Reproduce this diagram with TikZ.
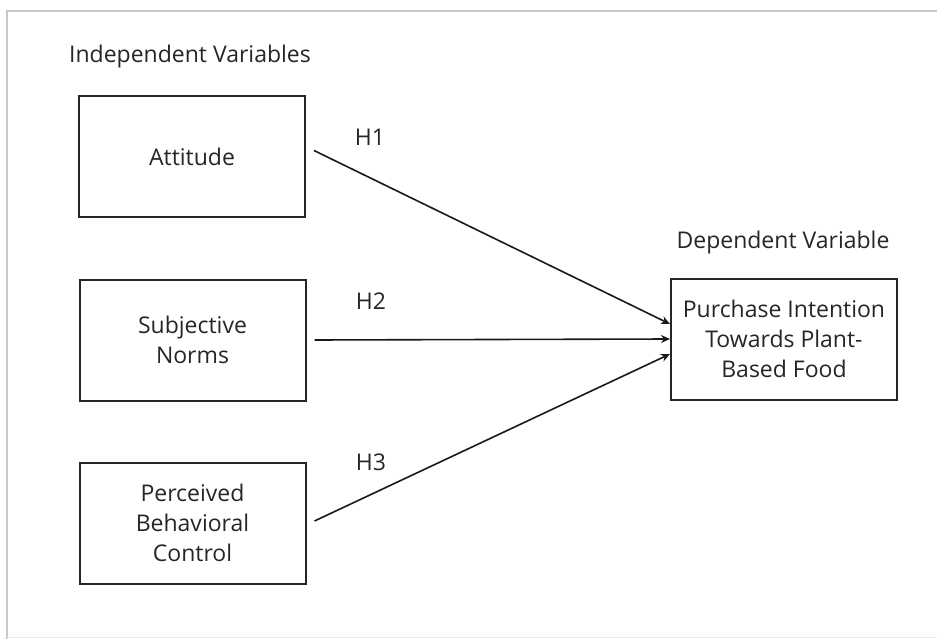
\documentclass[tikz,border=0pt]{standalone}
\usepackage{fontspec}
\setmainfont{Open Sans}
\usetikzlibrary{arrows.meta}
\begin{document}
\begin{tikzpicture}[x=1pt,y=-1pt,
  box/.style={draw=black!85, line width=2pt, minimum width=226pt, minimum height=121pt,
    align=center, font=\fontsize{23}{30}\selectfont, text=black!85, inner sep=0pt},
  lbl/.style={font=\fontsize{23}{26}\selectfont, text=black!85, inner sep=0pt},
  link/.style={line width=1.6pt, draw=black!90, -{Stealth[length=9pt,width=8pt]}}]
\useasboundingbox (0,0) rectangle (937,639);
\fill[white] (0,0) rectangle (937,639);
\draw[black!22, line width=2pt] (7,639) -- (7,11) -- (937,11);
\draw[black!8, line width=1pt] (7,637) -- (937,637);

\node[lbl] (indep) at (190,57) {Independent Variables};
\node[lbl] (dephead) at (783,243) {Dependent Variable};

\node[box] (att) at (192,156.5) {Attitude};
\node[box] (sn) at (192.5,340) {Subjective\\Norms};
\node[box] (pbc) at (192.5,523) {Perceived\\Behavioral\\Control};
\node[box] (dep) at (784,339) {Purchase Intention\\Towards Plant-\\Based Food};

\node[lbl] (h1) at (370,137) {H1};
\node[lbl] (h2) at (371,301) {H2};
\node[lbl] (h3) at (371,462) {H3};

\draw[link] ([xshift=8pt,yshift=6pt]att.east) -- ([yshift=15pt]dep.west);
\draw[link] ([xshift=8pt]sn.east) -- (dep.west);
\draw[link] ([xshift=8pt,yshift=2pt]pbc.east) -- ([yshift=-15pt]dep.west);
\end{tikzpicture}
\end{document}
